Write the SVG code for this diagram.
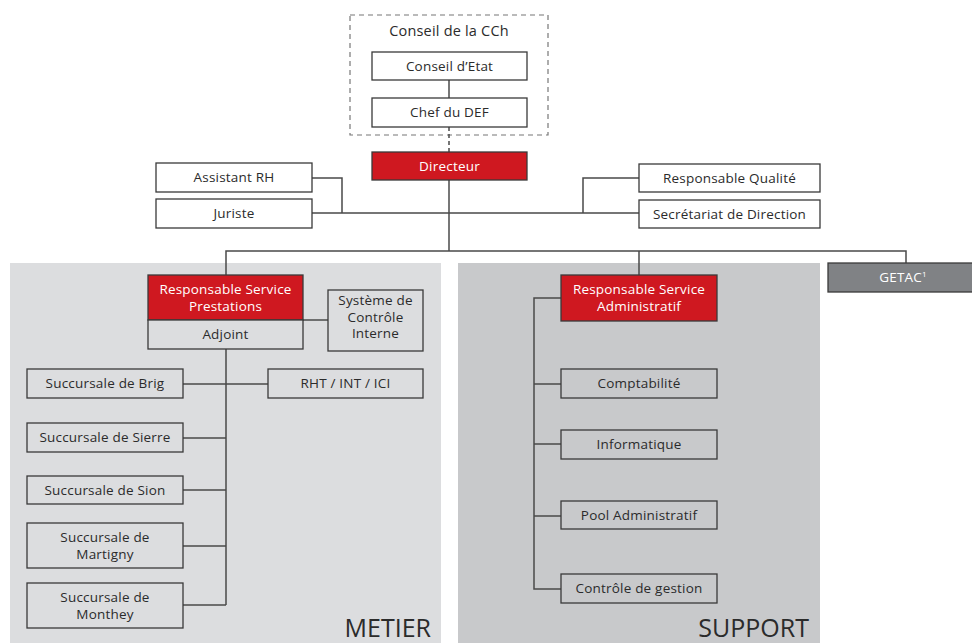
<svg xmlns="http://www.w3.org/2000/svg" width="972" height="643" viewBox="0 0 972 643">
<style>
.bx{fill:#fff;stroke:#3a3a3a;stroke-width:1.3}
.gb{fill:#dcdddf;stroke:#3a3a3a;stroke-width:1.3}
.gs{fill:#c8c9cb;stroke:#3a3a3a;stroke-width:1.3}
.rd{fill:#cf1820;stroke:#3a3a3a;stroke-width:1.3}
.t{font-family:"Open Sans","Noto Sans",sans-serif;font-size:13.5px;letter-spacing:0.2px;fill:#2b2b2b;text-anchor:middle}
.tw{font-family:"Open Sans","Noto Sans",sans-serif;font-size:13.5px;letter-spacing:0.2px;fill:#fff;text-anchor:middle}
.big{font-family:"Open Sans","Noto Sans",sans-serif;font-size:25px;fill:#2b2b2b;text-anchor:end}
.ln{fill:none;stroke:#4a4a4a;stroke-width:1.5}
</style>
<rect x="0" y="0" width="972" height="643" fill="#fff"/>
<g id="panel-metier"><rect x="10" y="263" width="431" height="380" fill="#dcdddf"/><text class="big" x="431" y="637">METIER</text></g>
<g id="panel-support"><rect x="458" y="263" width="362" height="380" fill="#c8c9cb"/><text class="big" x="809" y="637">SUPPORT</text></g>
<g id="conseil-cch"><rect x="350" y="15" width="198" height="120" fill="none" stroke="#777" stroke-width="1.2" stroke-dasharray="5,4"/><text class="t" x="449" y="36" style="font-size:14.5px">Conseil de la CCh</text></g>
<g id="connectors">
<path class="ln" d="M449 80V98"/>
<path class="ln" d="M449 127V152" stroke-dasharray="4,3"/>
<path class="ln" d="M449 180V251"/>
<path class="ln" d="M312 178H342V213M312 213H639M583 213V178H639"/>
<path class="ln" d="M226 275V251H906V264M639 251V275"/>
<path class="ln" d="M303 320H328"/>
<path class="ln" d="M226 349V605M183 384H268M183 438H226M183 490H226M183 546H226M183 605H226"/>
<path class="ln" d="M561 298H534V589H561M534 384H561M534 444H561M534 516H561"/>
</g>
<g id="conseil-etat"><rect class="bx" x="372" y="52" width="155" height="28"/><text class="t" x="449.5" y="70.5">Conseil d’Etat</text></g>
<g id="chef-def"><rect class="bx" x="372" y="98" width="155" height="29"/><text class="t" x="449.5" y="117">Chef du DEF</text></g>
<g id="directeur"><rect class="rd" x="372" y="152" width="155" height="28"/><text class="tw" x="449.5" y="170.5">Directeur</text></g>
<g id="assistant-rh"><rect class="bx" x="156" y="163" width="156" height="29"/><text class="t" x="234" y="182">Assistant RH</text></g>
<g id="juriste"><rect class="bx" x="156" y="199" width="156" height="29"/><text class="t" x="234" y="218">Juriste</text></g>
<g id="resp-qualite"><rect class="bx" x="639" y="164" width="181" height="28"/><text class="t" x="729.5" y="182.5">Responsable Qualité</text></g>
<g id="secretariat"><rect class="bx" x="639" y="200" width="181" height="28"/><text class="t" x="729.5" y="218.5">Secrétariat de Direction</text></g>
<g id="resp-prestations"><rect class="rd" x="148" y="275" width="155" height="45"/><text class="tw" x="225.5" y="293.5">Responsable Service</text><text class="tw" x="225.5" y="310.5">Prestations</text><rect class="gb" x="148" y="320" width="155" height="29"/><text class="t" x="225.5" y="339">Adjoint</text></g>
<g id="sci"><rect class="gb" x="328" y="290" width="95" height="61"/><text class="t" x="375.5" y="305">Système de</text><text class="t" x="375.5" y="321.5">Contrôle</text><text class="t" x="375.5" y="338">Interne</text></g>
<g id="brig"><rect class="gb" x="27" y="369" width="156" height="29"/><text class="t" x="105" y="388">Succursale de Brig</text></g>
<g id="rht"><rect class="gb" x="268" y="369" width="155" height="29"/><text class="t" x="345.5" y="388">RHT / INT / ICI</text></g>
<g id="sierre"><rect class="gb" x="27" y="423" width="156" height="29"/><text class="t" x="105" y="442">Succursale de Sierre</text></g>
<g id="sion"><rect class="gb" x="27" y="476" width="156" height="28"/><text class="t" x="105" y="494.5">Succursale de Sion</text></g>
<g id="martigny"><rect class="gb" x="27" y="523" width="156" height="45"/><text class="t" x="105" y="541.5">Succursale de</text><text class="t" x="105" y="558.5">Martigny</text></g>
<g id="monthey"><rect class="gb" x="27" y="583" width="156" height="45"/><text class="t" x="105" y="601.5">Succursale de</text><text class="t" x="105" y="618.5">Monthey</text></g>
<g id="resp-admin"><rect class="rd" x="561" y="275" width="156" height="46"/><text class="tw" x="639" y="294">Responsable Service</text><text class="tw" x="639" y="311">Administratif</text></g>
<g id="comptabilite"><rect class="gs" x="561" y="369" width="156" height="29"/><text class="t" x="639" y="388">Comptabilité</text></g>
<g id="informatique"><rect class="gs" x="561" y="430" width="156" height="29"/><text class="t" x="639" y="449">Informatique</text></g>
<g id="pool"><rect class="gs" x="561" y="501" width="156" height="28"/><text class="t" x="639" y="519.5">Pool Administratif</text></g>
<g id="controle-gestion"><rect class="gs" x="561" y="574" width="156" height="29"/><text class="t" x="639" y="593">Contrôle de gestion</text></g>
<g id="getac"><rect x="828" y="263" width="150" height="29" fill="#808285" stroke="#3a3a3a" stroke-width="1.3"/><text class="tw" x="903" y="282">GETAC<tspan font-size="8" dy="-5">1</tspan></text></g>
</svg>
